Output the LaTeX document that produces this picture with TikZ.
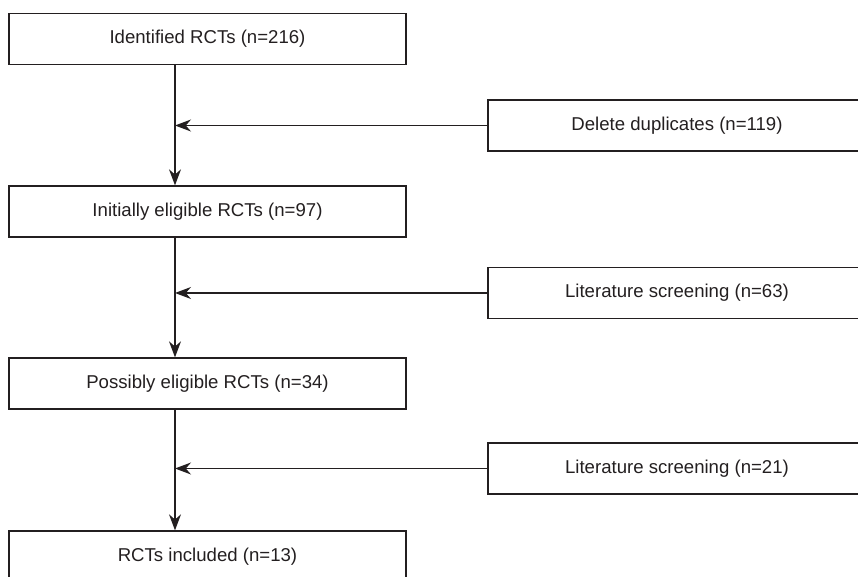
\documentclass[tikz,border=0pt]{standalone}
\usepackage{fontspec}
\setmainfont{Liberation Sans}
\usetikzlibrary{arrows.meta}
\definecolor{ink}{HTML}{231F20}

\begin{document}
\begin{tikzpicture}[x=0.5pt, y=-0.5pt,
        box/.style={draw=ink, line width=0.65pt, minimum height=25.5pt, inner sep=0pt,
            text=ink, font=\fontsize{9.3}{11}\selectfont},
        mainbox/.style={box, minimum width=198.5pt},
        sidebox/.style={box, minimum width=189pt},
        flow/.style={draw=ink, line width=0.65pt, -{Stealth[length=8pt, width=6pt, inset=2.6pt]}}]
        \useasboundingbox (0, 0) rectangle (858, 577);
        \clip (0, 0) rectangle (858, 577);
        % left column
        \node[mainbox] (identified) at (207.5, 39) {Identified RCTs (n=216)};
        \node[mainbox] (initial) at (207.5, 211.5) {Initially eligible RCTs (n=97)};
        \node[mainbox] (possible) at (207.5, 383.5) {Possibly eligible RCTs (n=34)};
        \node[mainbox] (included) at (207.5, 556.5) {RCTs included (n=13)};
        % exclusions on the right
        \node[sidebox] (duplicates) at (677, 125.5) {Delete duplicates (n=119)};
        \node[sidebox] (screenA) at (677, 293) {Literature screening (n=63)};
        \node[sidebox] (screenB) at (677, 468.5) {Literature screening (n=21)};
        % the main line sits left of the box centres
        \coordinate (spine) at (175, 0);
        \draw[flow] (identified.south -| spine) -- (initial.north -| spine);
        \draw[flow] (initial.south -| spine) -- (possible.north -| spine);
        \draw[flow] (possible.south -| spine) -- (included.north -| spine);
        \draw[flow] (duplicates.west) -- (duplicates.west -| spine);
        \draw[flow] (screenA.west) -- (screenA.west -| spine);
        \draw[flow] (screenB.west) -- (screenB.west -| spine);
    \end{tikzpicture}
\end{document}
